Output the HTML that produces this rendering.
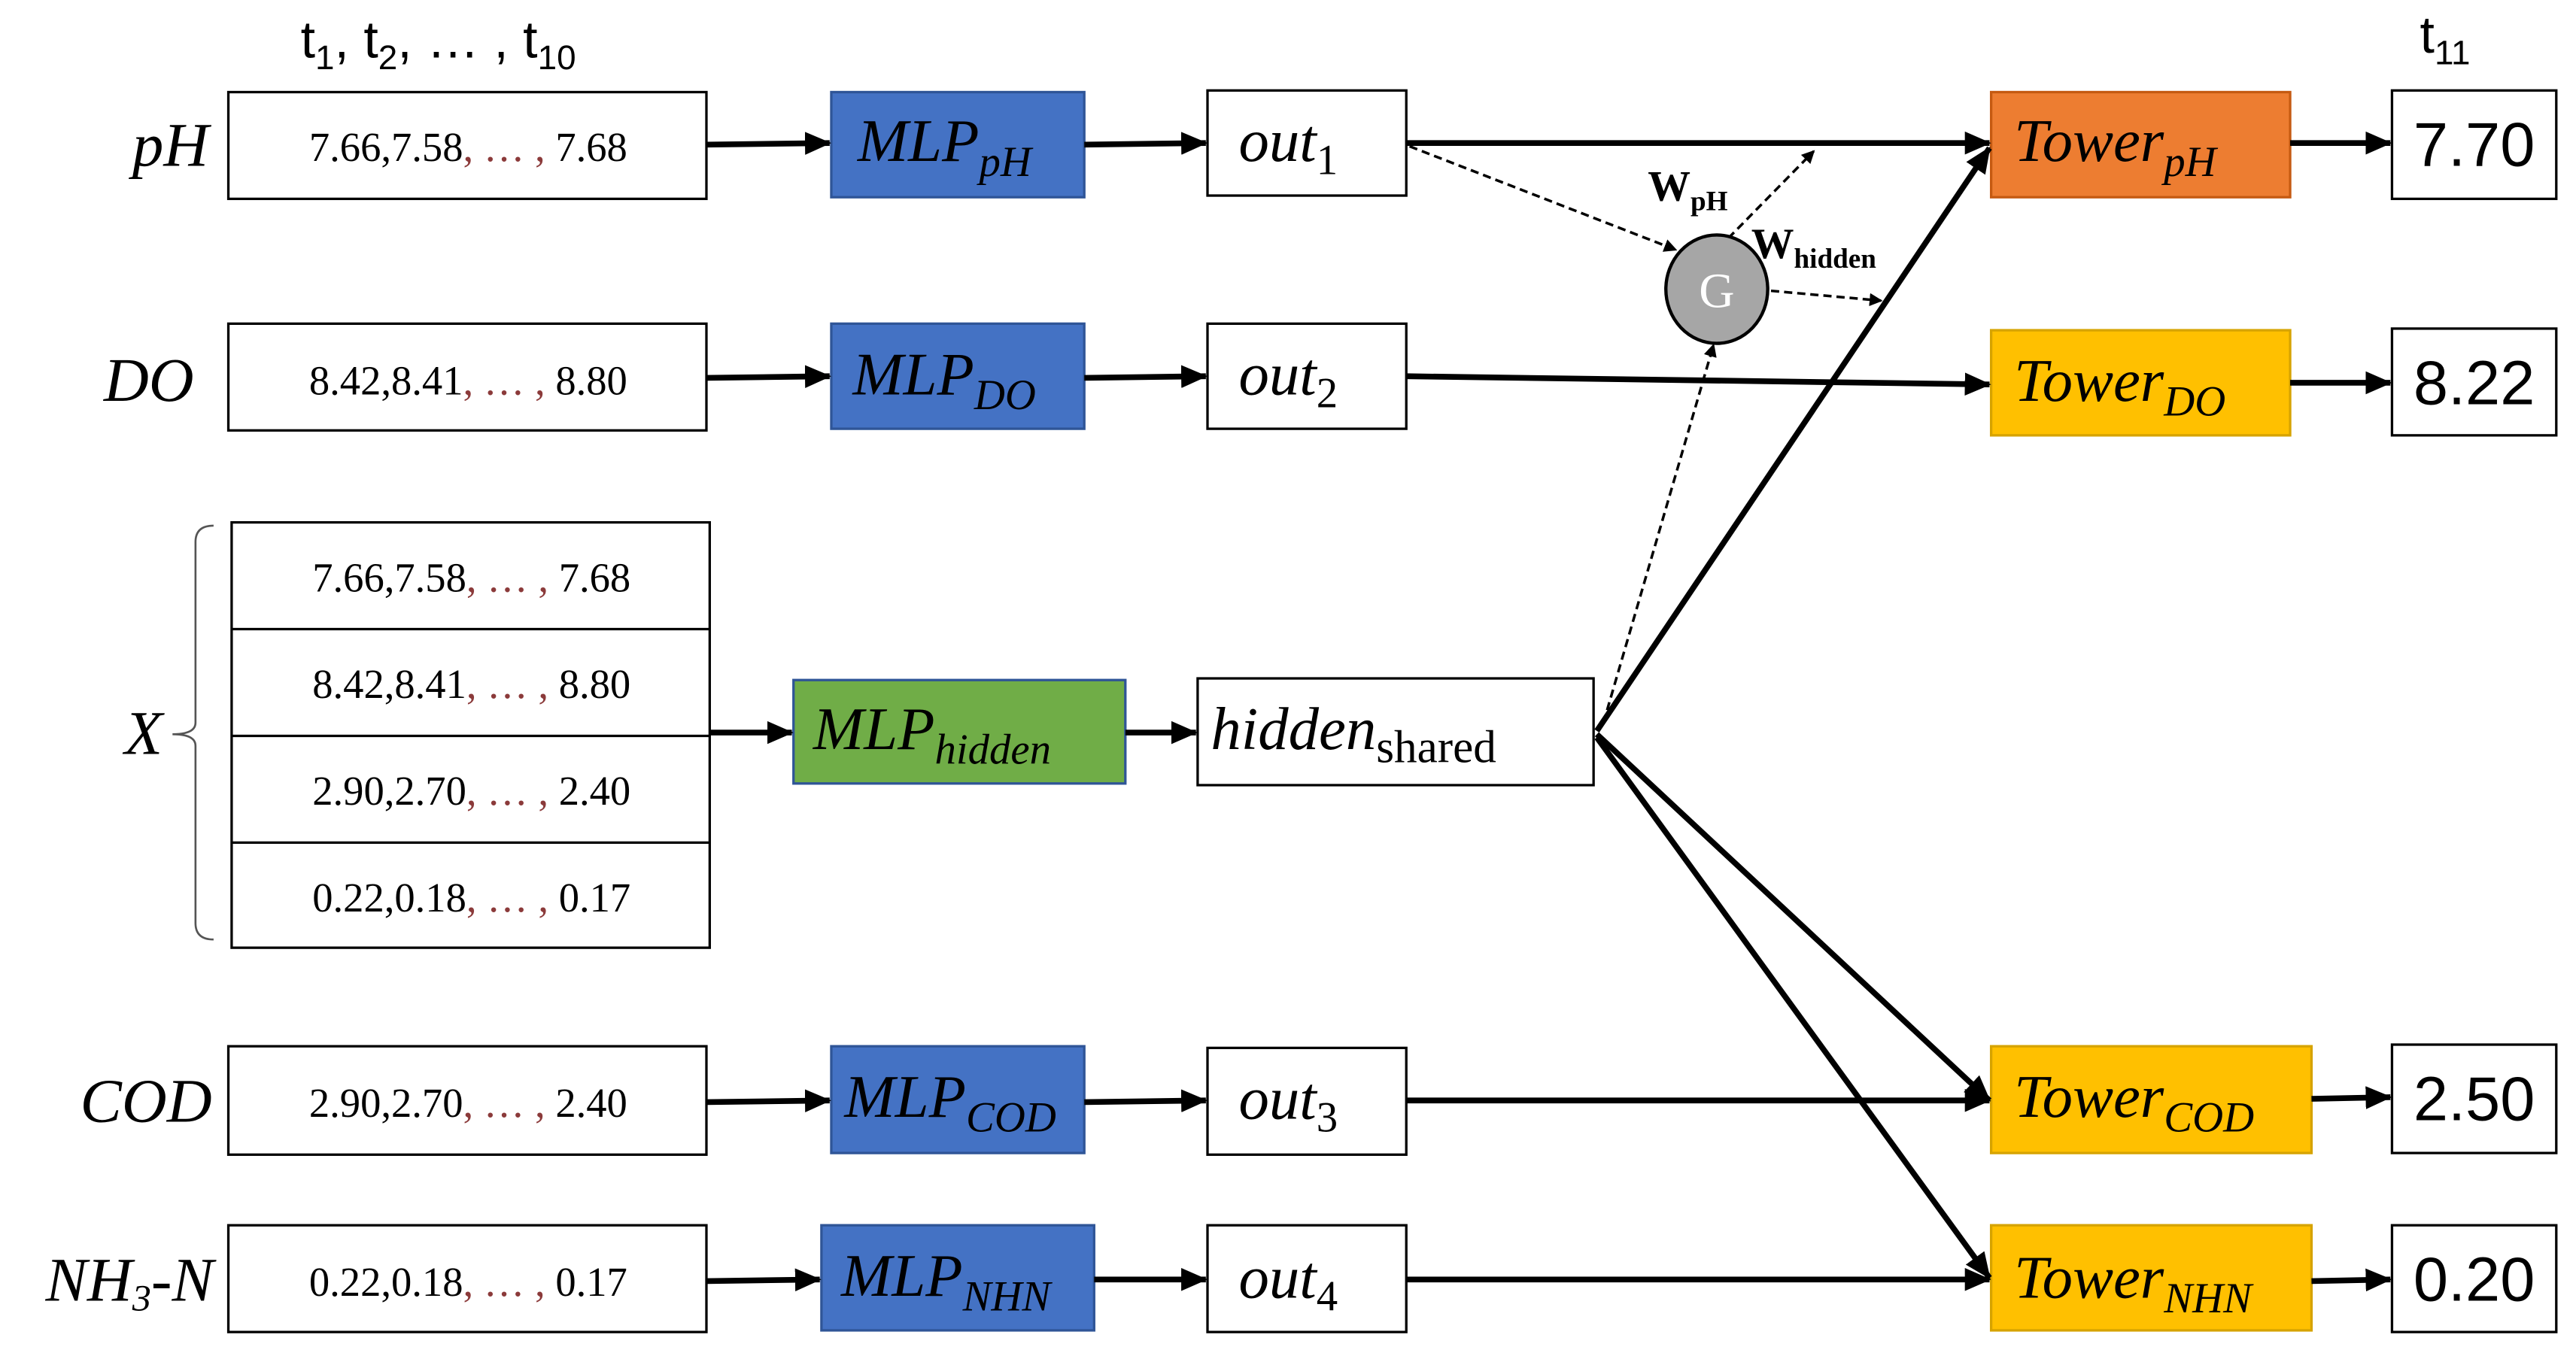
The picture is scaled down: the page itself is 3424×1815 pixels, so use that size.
<!DOCTYPE html>
<html><head><meta charset="utf-8"><style>
html,body{margin:0;padding:0;background:#fff;}
svg{display:block;}
.it{font-family:"Liberation Serif",serif;font-style:italic;}
.n{font-family:"Liberation Sans Narrow","Liberation Sans",sans-serif;}
.s{font-family:"Liberation Serif",serif;}
</style></head><body>
<svg width="3424" height="1815" viewBox="0 0 1568 831" xmlns="http://www.w3.org/2000/svg">
<defs>
<marker id="a" markerWidth="8" markerHeight="8" refX="7" refY="4" orient="auto" markerUnits="userSpaceOnUse"><path d="M0,0 L8,4 L0,8 z" fill="#000"/></marker>
<marker id="b" markerWidth="16" markerHeight="14" refX="15" refY="7" orient="auto" markerUnits="userSpaceOnUse"><path d="M0,0 L16,7 L0,14 z" fill="#000"/></marker>
</defs>
<g stroke="#000" stroke-width="1.5" fill="#fff">
<rect x="139" y="56" width="291" height="65"/>
<rect x="139" y="197" width="291" height="65"/>
<rect x="141" y="318" width="291" height="259"/>
<line x1="141" y1="383" x2="432" y2="383"/><line x1="141" y1="448" x2="432" y2="448"/><line x1="141" y1="513" x2="432" y2="513"/>
<rect x="139" y="637" width="291" height="66"/>
<rect x="139" y="746" width="291" height="65"/>
<rect x="735" y="55" width="121" height="64"/>
<rect x="735" y="197" width="121" height="64"/>
<rect x="729" y="413" width="241" height="65"/>
<rect x="735" y="638" width="121" height="65"/>
<rect x="735" y="746" width="121" height="65"/>
<rect x="1456" y="55" width="100" height="66"/>
<rect x="1456" y="200" width="100" height="65"/>
<rect x="1456" y="636" width="100" height="66"/>
<rect x="1456" y="746" width="100" height="65"/>
</g>
<g stroke-width="1.5">
<rect x="506" y="56" width="154" height="64" fill="#4472C4" stroke="#2F5597"/>
<rect x="506" y="197" width="154" height="64" fill="#4472C4" stroke="#2F5597"/>
<rect x="483" y="414" width="202" height="63" fill="#70AD47" stroke="#2F5597"/>
<rect x="506" y="637" width="154" height="65" fill="#4472C4" stroke="#2F5597"/>
<rect x="500" y="746" width="166" height="64" fill="#4472C4" stroke="#2F5597"/>
<rect x="1212" y="56" width="182" height="64" fill="#ED7D31" stroke="#C55A11"/>
<rect x="1212" y="201" width="182" height="64" fill="#FFC000" stroke="#D6A300"/>
<rect x="1212" y="637" width="195" height="65" fill="#FFC000" stroke="#D6A300"/>
<rect x="1212" y="746" width="195" height="64" fill="#FFC000" stroke="#D6A300"/>
</g>
<path d="M130,320 Q119,320 119,330 L119,440 Q119,447 105,447 Q119,447 119,454 L119,562 Q119,572 130,572" fill="none" stroke="#555" stroke-width="1.2"/>
<g stroke="#000" stroke-width="3.5" fill="none" marker-end="url(#b)">
<line x1="430" y1="88" x2="505" y2="87"/>
<line x1="660" y1="88" x2="734" y2="87"/>
<line x1="430" y1="230" x2="505" y2="229"/>
<line x1="660" y1="230" x2="734" y2="229"/>
<line x1="432" y1="446" x2="482" y2="446"/>
<line x1="685" y1="446" x2="728" y2="446"/>
<line x1="430" y1="671" x2="505" y2="670"/>
<line x1="660" y1="671" x2="734" y2="670"/>
<line x1="430" y1="780" x2="499" y2="779"/>
<line x1="666" y1="779" x2="734" y2="779"/>
<line x1="856" y1="87" x2="1211" y2="87"/>
<line x1="856" y1="229" x2="1211" y2="234"/>
<line x1="856" y1="670" x2="1211" y2="670"/>
<line x1="856" y1="779" x2="1211" y2="779"/>
<line x1="972" y1="445" x2="1211" y2="90"/>
<line x1="972" y1="447" x2="1211" y2="670"/>
<line x1="972" y1="449" x2="1211" y2="778"/>
<line x1="1394" y1="87" x2="1455" y2="87"/>
<line x1="1394" y1="233" x2="1455" y2="233"/>
<line x1="1407" y1="669" x2="1455" y2="668"/>
<line x1="1407" y1="780" x2="1455" y2="779"/>
</g>
<g stroke="#000" stroke-width="1.6" fill="none" stroke-dasharray="5,3" marker-end="url(#a)">
<line x1="858" y1="89" x2="1020" y2="152"/>
<line x1="976" y1="440" x2="1043" y2="210"/>
<line x1="1052" y1="145" x2="1104" y2="92"/>
<line x1="1078" y1="177" x2="1145" y2="183"/>
</g>
<ellipse cx="1045" cy="176" rx="31" ry="33" fill="#A6A6A6" stroke="#000" stroke-width="2"/>
<text x="1045" y="187" font-size="30" fill="#fff" text-anchor="middle" class="s">G</text>
<text x="1003" y="122" font-size="26" font-weight="bold" class="s">W<tspan font-size="17" dy="6">pH</tspan></text>
<text x="1066" y="157" font-size="26" font-weight="bold" class="s">W<tspan font-size="17" dy="6">hidden</tspan></text>
<text x="183" y="35" font-size="32" class="n">t<tspan font-size="21" dy="7">1</tspan><tspan dy="-7">, t</tspan><tspan font-size="21" dy="7">2</tspan><tspan dy="-7">, … , t</tspan><tspan font-size="21" dy="7">10</tspan></text>
<text x="1473" y="32" font-size="32" class="n">t<tspan font-size="21" dy="7">11</tspan></text>
<g class="it" font-size="38" text-anchor="end">
<text x="127" y="101">pH</text>
<text x="118" y="244">DO</text>
<text x="99" y="459">X</text>
<text x="129" y="683">COD</text>
<text x="130" y="792">NH<tspan font-size="23" dy="6">3</tspan><tspan dy="-6">-N</tspan></text>
</g>
<g class="s" font-size="25" text-anchor="middle">
<text x="285" y="98">7.66,7.58<tspan fill="#8B3A3A">, … ,</tspan> 7.68</text>
<text x="285" y="240">8.42,8.41<tspan fill="#8B3A3A">, … ,</tspan> 8.80</text>
<text x="287" y="360">7.66,7.58<tspan fill="#8B3A3A">, … ,</tspan> 7.68</text>
<text x="287" y="425">8.42,8.41<tspan fill="#8B3A3A">, … ,</tspan> 8.80</text>
<text x="287" y="490">2.90,2.70<tspan fill="#8B3A3A">, … ,</tspan> 2.40</text>
<text x="287" y="555">0.22,0.18<tspan fill="#8B3A3A">, … ,</tspan> 0.17</text>
<text x="285" y="680">2.90,2.70<tspan fill="#8B3A3A">, … ,</tspan> 2.40</text>
<text x="285" y="789">0.22,0.18<tspan fill="#8B3A3A">, … ,</tspan> 0.17</text>
</g>
<g class="n" font-size="38" text-anchor="middle">
<text x="1506" y="101">7.70</text>
<text x="1506" y="246">8.22</text>
<text x="1506" y="682">2.50</text>
<text x="1506" y="792">0.20</text>
</g>
<g class="it" font-size="37">
<text x="522" y="98">MLP<tspan font-size="26" dy="9">pH</tspan></text>
<text x="519" y="240">MLP<tspan font-size="26" dy="9">DO</tspan></text>
<text x="495" y="456">MLP<tspan font-size="26" dy="9">hidden</tspan></text>
<text x="514" y="680">MLP<tspan font-size="26" dy="9">COD</tspan></text>
<text x="512" y="789">MLP<tspan font-size="26" dy="9">NHN</tspan></text>
<text x="754" y="98">out<tspan font-size="26" dy="8" font-style="normal">1</tspan></text>
<text x="754" y="240">out<tspan font-size="26" dy="8" font-style="normal">2</tspan></text>
<text x="737" y="456">hidden<tspan font-size="28" dy="8" font-style="normal">shared</tspan></text>
<text x="754" y="681">out<tspan font-size="26" dy="8" font-style="normal">3</tspan></text>
<text x="754" y="790">out<tspan font-size="26" dy="8" font-style="normal">4</tspan></text>
<text x="1226" y="98">Tower<tspan font-size="26" dy="9">pH</tspan></text>
<text x="1226" y="244">Tower<tspan font-size="26" dy="9">DO</tspan></text>
<text x="1226" y="680">Tower<tspan font-size="26" dy="9">COD</tspan></text>
<text x="1226" y="790">Tower<tspan font-size="26" dy="9">NHN</tspan></text>
</g>
</svg>
</body></html>
